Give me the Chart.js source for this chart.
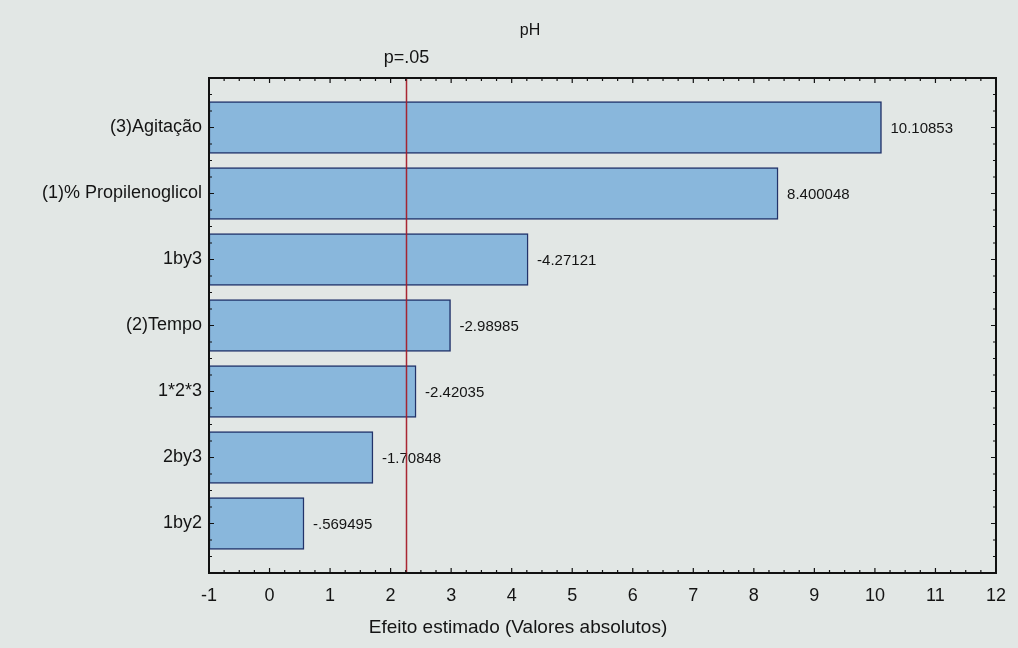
<!DOCTYPE html>
<html>
<head>
<meta charset="utf-8">
<script src="https://cdn.jsdelivr.net/npm/chart.js@4"></script>
<style>
  html, body { margin: 0; padding: 0; background: #e2e7e5; }
  #wrap { width: 1018px; height: 648px; }
</style>
</head>
<body>
<div id="wrap"><canvas id="pareto" width="1018" height="648"></canvas></div>
<script>
(function () {
  "use strict";

  // Pareto chart of standardized effects, response pH
  const TERMS = ["(3)Agitação", "(1)% Propilenoglicol", "1by3", "(2)Tempo", "1*2*3", "2by3", "1by2"];
  const EFFECTS = [10.10853, 8.400048, -4.27121, -2.98985, -2.42035, -1.70848, -0.569495];
  const X_TICKS = [-1, 0, 1, 2, 3, 4, 5, 6, 7, 8, 9, 10, 11, 12];
  const T_CRIT = 2.262; // p=.05 line
  const TITLE = "pH";
  const X_TITLE = "Efeito estimado (Valores absolutos)";

  const FONT = "'Liberation Sans', Arial, sans-serif";
  const INK = "#141414";

  // Statistica style: -0.569495 -> -.569495
  function fmt(v) {
    return String(v).replace(/^(-?)0\./, "$1.");
  }

  const decor = {
    id: "decor",
    beforeDraw(chart) {
      const ctx = chart.ctx;
      ctx.save();
      ctx.fillStyle = "#e2e7e5";
      ctx.fillRect(0, 0, chart.width, chart.height);
      ctx.restore();
    },
    afterDatasetsDraw(chart) {
      const ctx = chart.ctx;
      const a = chart.chartArea;
      const xs = chart.scales.x;
      const ys = chart.scales.y;
      ctx.save();

      // value labels at bar ends
      ctx.font = "15px " + FONT;
      ctx.fillStyle = INK;
      ctx.textBaseline = "middle";
      ctx.textAlign = "left";
      EFFECTS.forEach((v, i) => {
        ctx.fillText(fmt(v), xs.getPixelForValue(Math.abs(v)) + 9, ys.getPixelForValue(i) + 1);
      });

      // significance line
      const lx = Math.round(xs.getPixelForValue(T_CRIT)) + 0.5;
      ctx.strokeStyle = "rgba(165,28,40,0.95)";
      ctx.lineWidth = 1.5;
      ctx.beginPath();
      ctx.moveTo(lx, a.top);
      ctx.lineTo(lx, a.bottom);
      ctx.stroke();

      // frame
      ctx.strokeStyle = "#111";
      ctx.lineWidth = 2;
      ctx.strokeRect(a.left, a.top, a.right - a.left, a.bottom - a.top);

      // inward ticks on the frame
      ctx.lineWidth = 1.2;
      ctx.beginPath();
      for (let q = X_TICKS[0] * 4; q <= X_TICKS[X_TICKS.length - 1] * 4; q++) {
        const px = xs.getPixelForValue(q / 4);
        const len = q % 4 === 0 ? 5 : 3;
        ctx.moveTo(px, a.bottom); ctx.lineTo(px, a.bottom - len);
        ctx.moveTo(px, a.top); ctx.lineTo(px, a.top + len);
      }
      for (let q = -3; q <= TERMS.length * 4 - 1; q++) {
        const py = ys.getPixelForValue(q / 4);
        if (py < a.top + 2 || py > a.bottom - 2) continue;
        const len = q % 4 === 0 ? 5 : 3;
        ctx.moveTo(a.left, py); ctx.lineTo(a.left + len, py);
        ctx.moveTo(a.right, py); ctx.lineTo(a.right - len, py);
      }
      ctx.stroke();

      // texts
      ctx.fillStyle = INK;
      ctx.textAlign = "center";
      ctx.font = "16px " + FONT;
      ctx.fillText(TITLE, 530, 31);
      ctx.font = "18px " + FONT;
      ctx.fillText("p=.05", lx, 58);
      ctx.font = "19px " + FONT;
      ctx.fillText(X_TITLE, 518, 628);
      ctx.restore();
    },
  };

  new Chart(document.getElementById("pareto"), {
    type: "bar",
    data: {
      datasets: [{
        data: TERMS.map((t, i) => ({ y: i, x: [X_TICKS[0], Math.abs(EFFECTS[i])] })),
        backgroundColor: "#89b7dc",
        borderColor: "#22336a",
        borderWidth: 1.5,
        borderSkipped: false,
        barThickness: 52,
      }],
    },
    options: {
      indexAxis: "y",
      responsive: false,
      animation: false,
      layout: { padding: { top: 78, right: 19, bottom: 0, left: 0 } },
      plugins: { legend: { display: false }, tooltip: { enabled: false } },
      scales: {
        x: {
          type: "linear",
          min: X_TICKS[0],
          max: X_TICKS[X_TICKS.length - 1],
          afterBuildTicks: (s) => { s.ticks = X_TICKS.map((v) => ({ value: v })); },
          grid: { display: false, drawTicks: false },
          border: { display: false },
          ticks: { color: INK, font: { family: FONT, size: 18 }, padding: 12, maxRotation: 0 },
          afterFit: (s) => { s.height = 75; },
        },
        y: {
          type: "linear",
          reverse: true,
          offset: false,
          min: -0.75,
          max: TERMS.length - 0.25,
          afterBuildTicks: (s) => { s.ticks = TERMS.map((t, i) => ({ value: i })); },
          grid: { display: false, drawTicks: false, offset: false },
          border: { display: false },
          ticks: {
            color: INK,
            font: { family: FONT, size: 18 },
            padding: 7,
            callback: (v) => TERMS[v],
          },
          afterFit: (s) => { s.width = 209; },
        },
      },
    },
    plugins: [decor],
  });
})();
</script>
</body>
</html>
